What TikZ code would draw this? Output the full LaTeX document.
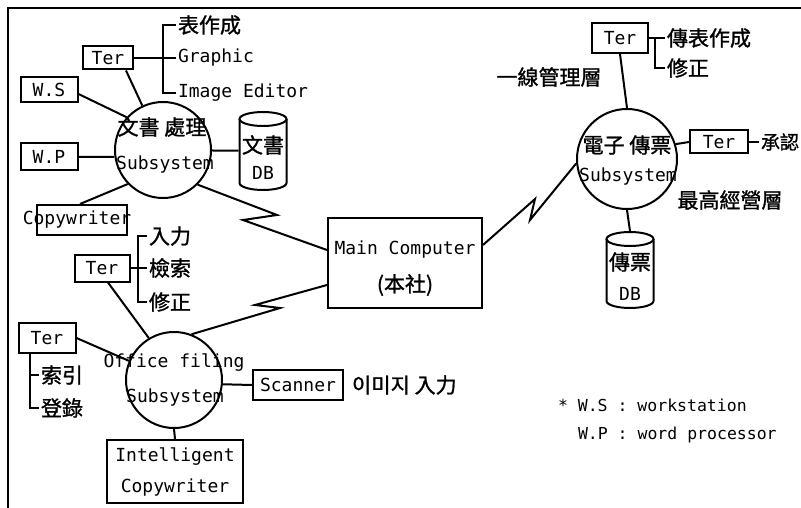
\documentclass[tikz,border=0pt]{standalone}
\usepackage{fontspec}
\setmonofont{DejaVu Sans Mono}
\newfontfamily\cjk{Noto Sans CJK TC}[FakeBold=1.2]
\begin{document}
\begin{tikzpicture}[x=1pt,y=-1pt,
  line width=2pt, line join=miter,
  lat/.style={font=\fontsize{18}{18}\selectfont\ttfamily, inner sep=1pt},
  cj/.style={font=\fontsize{21}{21}\selectfont\cjk, inner sep=1pt},
  fn/.style={font=\fontsize{16.5}{16.5}\selectfont\ttfamily, inner sep=1pt, anchor=west},
  box/.style={draw, line width=2pt, inner sep=0pt, font=\fontsize{18}{18}\selectfont\ttfamily},
  sys/.style={draw, circle, line width=2pt, inner sep=0pt},
  dbx/.style={inner sep=0pt}]
\useasboundingbox (0,0) rectangle (801,508);
% frame
\draw (8,508) -- (8,8) -- (801,8);

% ---------- 文書 處理 subsystem ----------
\node[sys, minimum size=96] (c1) at (163,150) {};
\node[cj] (c1a) at (162,127) {文書 處理};
\node[lat] (c1b) at (165,165) {Subsystem};

\node[box, minimum width=50, minimum height=23] (ter1) at (108,58) {Ter};
\node[cj, anchor=west] (t_hyo) at (176,25) {表作成};
\node[lat, anchor=west] (t_gra) at (176,58) {Graphic};
\node[lat, anchor=west] (t_img) at (176,93) {Image Editor};
\draw (ter1.east) -- (t_gra.west);
\draw (t_hyo.west) -- ++(-13,0) |- (t_img.west);

\node[box, minimum width=57, minimum height=25] (ws) at (49,90) {W.S};
\node[box, minimum width=57, minimum height=27] (wp) at (49,157) {W.P};

\node[dbx, minimum width=47, minimum height=78] (db1) at (263,151) {};
\draw (263,119) ellipse [x radius=23.5, y radius=7];
\draw (239.5,119) -- (239.5,183) arc[start angle=180, end angle=0, x radius=23.5, y radius=7] -- (286.5,119);
\node[cj] (db1a) at (263,145) {文書};
\node[lat] (db1b) at (263,173) {DB};

\node[box, minimum width=90, minimum height=30] (copy) at (82,220) {};
\node[lat] (copyt) at (77,220) {Copywriter};

\draw ([xshift=-8pt]ter1.south east) -- (c1.115);
\draw ([yshift=-4pt]ws.east) -- (c1.138);
\draw (wp.east) -- (c1.188);
\draw (c1) -- (db1);
\draw ([xshift=-2pt]copy.north) -- (c1.224);

% ---------- Main computer ----------
\node[box, minimum width=154, minimum height=90] (mc) at (405,263) {};
\node[lat] (mca) at (405,250) {Main Computer};
\node[cj] (mcb) at (405,285) {(本社)};

\draw (c1.-45) -- (277,215) -- (243,220) -- ([yshift=13pt]mc.west);

% ---------- Office filing subsystem ----------
\node[sys, minimum size=96] (c2) at (174,380) {};
\node[lat] (c2a) at (174,363) {Office filing};
\node[lat] (c2b) at (175,398) {Subsystem};

\node[box, minimum width=55, minimum height=27] (ter2) at (102,268) {Ter};
\node[cj, anchor=west] (t_in) at (147,236) {入力};
\node[cj, anchor=west] (t_sr) at (147,268) {檢索};
\node[cj, anchor=west] (t_fx) at (147,302) {修正};
\draw (ter2.east) -- (t_sr.west);
\draw (t_in.west) -- ++(-9,0) |- (t_fx.west);
\draw ([xshift=6pt]ter2.south) -- (c2.121);

\node[box, minimum width=57, minimum height=30] (ter3) at (47,338) {Ter};
\node[cj, anchor=west] (t_idx) at (39,375) {索引};
\node[cj, anchor=west] (t_reg) at (39,408) {登錄};
\draw ([xshift=-17pt]ter3.south) |- (t_reg.west);
\draw (t_idx.west) -- ++(-9,0);
\draw (ter3.east) -- (c2.157);

\node[box, minimum width=90, minimum height=30] (scan) at (298,385) {Scanner};
\draw (c2.-5) -- (scan.west);
\node[cj, anchor=west] (kor) at (350,385) {이미지 入力};

\node[box, minimum width=136, minimum height=63, align=center] (intel) at (175,471.5) {Intelligent\\[13pt]Copywriter};
\draw (c2.south) -- (intel.north);

\draw (c2.69) -- (280,308) -- (255,305) -- ([yshift=-22pt]mc.west);

% ---------- 電子 傳票 subsystem ----------
\node[sys, minimum size=100] (c3) at (627,159) {};
\node[cj] (c3a) at (627,145) {電子 傳票};
\node[lat] (c3b) at (628,177) {Subsystem};

\node[box, minimum width=56, minimum height=30] (ter4) at (620,38) {Ter};
\node[cj, anchor=west] (t_cj) at (665,38) {傳表作成};
\node[cj, anchor=west] (t_fx2) at (665,68) {修正};
\draw (ter4.east) -- (t_cj.west);
\draw (t_fx2.west) -- ++(-10,0) -- ++(0,-30);
\node[cj] (t_line) at (549,77) {一線管理層};
\draw (ter4.south) -- (c3.north);

\node[box, minimum width=58, minimum height=23] (ter5) at (719,142) {Ter};
\draw (c3.17) -- (ter5.west);
\node[cj, anchor=west, font=\fontsize{19}{19}\selectfont\cjk] (t_ok) at (759,142) {承認};
\draw (ter5.east) -- (t_ok.west);
\node[cj] (t_top) at (730,200) {最高經營層};

\node[dbx, minimum width=47, minimum height=76] (db2) at (630,270) {};
\draw (630,239) ellipse [x radius=23.5, y radius=7];
\draw (606.5,239) -- (606.5,301) arc[start angle=180, end angle=0, x radius=23.5, y radius=7] -- (653.5,239);
\node[cj] (db2a) at (630,262) {傳票};
\node[lat] (db2b) at (630,294) {DB};
\draw (c3.south) -- (db2.north);

\draw ([yshift=18pt]mc.east) -- (535,199) -- (530,220) -- (c3.185);

% ---------- footnote ----------
\node[fn] (fn1) at (556,405) {* W.S : workstation};
\node[fn] (fn2) at (576,435) {W.P : word processor};
\end{tikzpicture}
\end{document}
